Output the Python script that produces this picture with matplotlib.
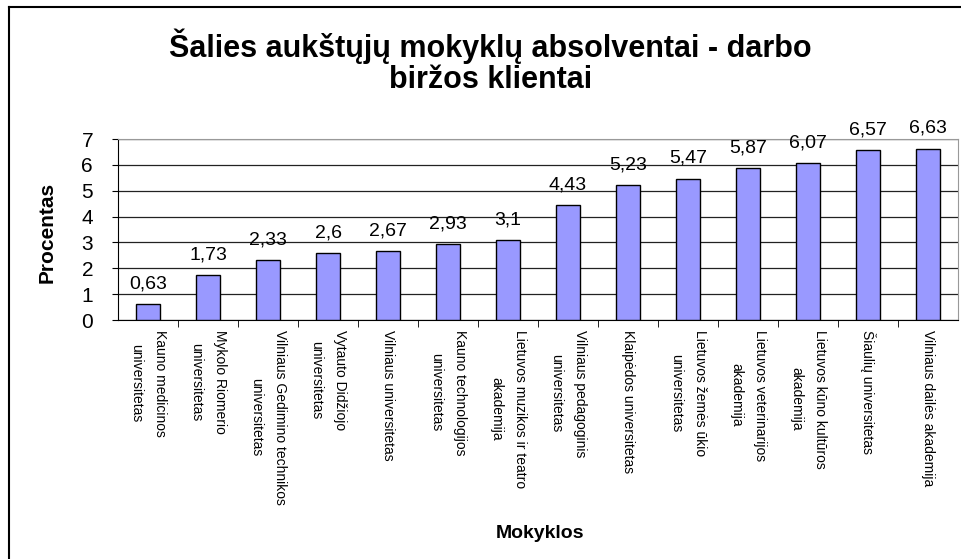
import numpy as np
import matplotlib
matplotlib.use("Agg")
import matplotlib.pyplot as plt
from matplotlib.lines import Line2D

plt.rcParams['font.family'] = ['Liberation Sans', 'DejaVu Sans']

# Duomenys
mokyklos = [
    "Kauno medicinos\nuniversitetas",
    "Mykolo Riomerio\nuniversitetas",
    "Vilniaus Gedimino technikos\nuniversitetas",
    "Vytauto Didžiojo\nuniversitetas",
    "Vilniaus universitetas",
    "Kauno technologijos\nuniversitetas",
    "Lietuvos muzikos ir teatro\nakademija",
    "Vilniaus pedagoginis\nuniversitetas",
    "Klaipėdos universitetas",
    "Lietuvos žemės ūkio\nuniversitetas",
    "Lietuvos veterinarijos\nakademija",
    "Lietuvos kūno kultūros\nakademija",
    "Šiaulių universitetas",
    "Vilniaus dailės akademija",
]
procentai = [0.63, 1.73, 2.33, 2.6, 2.67, 2.93, 3.1, 4.43, 5.23, 5.47, 5.87, 6.07, 6.57, 6.63]

fig = plt.figure(figsize=(9.61, 5.59), dpi=100)
ax = fig.add_axes([0.1228, 0.4275, 0.8741, 0.3238])

x = np.arange(len(mokyklos))
ax.bar(x, procentai, width=0.4, color='#9999FF', edgecolor='black', linewidth=1.0, zorder=3)

# reikšmės virš stulpelių
for xi, v in zip(x, procentai):
    ax.text(xi, v + 0.45, str(v).replace('.', ','), ha='center', va='bottom', fontsize=14)

ax.set_ylim(0, 7)
ax.set_xlim(-0.5, len(mokyklos) - 0.5)
ax.set_yticks(range(0, 8))
ax.tick_params(axis='y', labelsize=15, length=4, direction='out', pad=14)
ax.yaxis.grid(True, color='#222222', linewidth=0.9, zorder=0)

ax.set_xticks(x)
ax.set_xticklabels(mokyklos, rotation=-90, fontsize=10, ha='center', va='top',
                   multialignment='center', linespacing=1.9)
ax.tick_params(axis='x', length=0, pad=7)
ax.set_xticks(x[:-1] + 0.5, minor=True)
ax.tick_params(axis='x', which='minor', length=5, direction='out')

ax.spines['top'].set_color('#999999')
ax.spines['right'].set_color('#999999')
ax.spines['left'].set_color('black')
ax.spines['bottom'].set_color('black')

fig.text(0.049, 0.585, 'Procentas', rotation=90, ha='center', va='center', fontsize=15, fontweight='bold')
fig.text(0.562, 0.046, 'Mokyklos', ha='center', va='center', fontsize=14, fontweight='bold')

fig.text(0.51, 0.89, 'Šalies aukštųjų mokyklų absolventai - darbo\nbiržos klientai',
         ha='center', va='center', fontsize=22, fontweight='bold', linespacing=1.05)

# rėmelis
fig.add_artist(Line2D([0.0095, 0.0095], [0.0, 0.9875], color='black', linewidth=1.5, transform=fig.transFigure))
fig.add_artist(Line2D([0.0095, 1.0], [0.9875, 0.9875], color='black', linewidth=1.5, transform=fig.transFigure))

fig.savefig('out.png', dpi=100)
